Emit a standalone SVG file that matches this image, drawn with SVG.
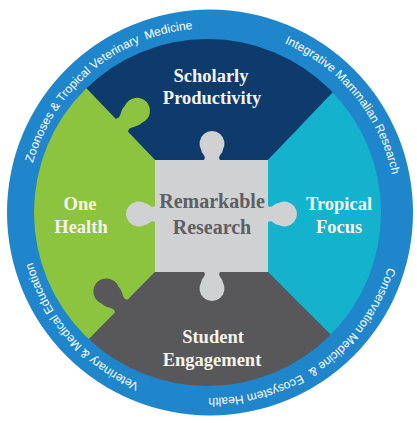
<svg xmlns="http://www.w3.org/2000/svg" xmlns:xlink="http://www.w3.org/1999/xlink" width="417" height="423" viewBox="0 0 417 423">
<style>
.lbl{font-family:"Liberation Serif","Times New Roman",serif;font-weight:bold;font-size:18.5px;fill:#f5f3ea;text-anchor:middle}
.ctr{font-family:"Liberation Serif","Times New Roman",serif;font-weight:bold;font-size:20px;fill:#5e5f63;text-anchor:middle}
.ring{font-family:"Liberation Sans",Arial,sans-serif;font-size:12px;fill:#ffffff}
</style>
<defs>
<clipPath id="inner"><circle cx="207.5" cy="212.5" r="173.5"/></clipPath>
<path id="knobL" d="M -9,3 L -9,0 C -5,-5 -12,-8 -12,-16 A 13 13 0 1 1 12,-16 C 12,-8 5,-5 9,0 L 9,3 Z"/>
<path id="knobS" d="M -8,3 L -8,0 C -5,-4 -10.7,-6 -10.7,-10 A 12.5 12.5 0 1 1 10.7,-10 C 10.7,-6 5,-4 8,0 L 8,3 Z"/>
<path id="ringPath" d="M 26,213 A 185 185 0 1 1 396,213 A 185 185 0 1 1 26,213"/>
</defs>
<g id="ring">
<circle cx="210" cy="212.5" r="203" fill="#1f86cc"/>
<g id="ring-text-1">
<text class="ring"><textPath xlink:href="#ringPath" startOffset="50.7">Zoonoses &amp; Tropical Veterinary</textPath></text>
<text class="ring"><textPath xlink:href="#ringPath" startOffset="224">Medicine</textPath></text>
</g>
<g id="ring-text-2">
<text class="ring"><textPath xlink:href="#ringPath" startOffset="366">Integrative Mammalian Research</textPath></text>
</g>
<g id="ring-text-3">
<text class="ring"><textPath xlink:href="#ringPath" startOffset="636">Conservation Medicine &amp;</textPath></text>
<text class="ring"><textPath xlink:href="#ringPath" startOffset="777.2">Ecosystem Health</textPath></text>
</g>
<g id="ring-text-4">
<text class="ring"><textPath xlink:href="#ringPath" startOffset="945">Veterinary &amp; Medical Education</textPath></text>
</g>
</g>
<g clip-path="url(#inner)">
<g id="scholarly">
<path d="M21,20 L155,160 L268,160 L406,16 L406,0 L21,0 Z" fill="#0e3b6c"/>
<use xlink:href="#knobL" transform="translate(296.4,130.4) rotate(133.8)" fill="#0e3b6c"/>
</g>
<g id="onehealth">
<path d="M21,20 L155,160 L155,272 L19,410 L0,410 L0,20 Z" fill="#8cc43f"/>
<use xlink:href="#knobL" transform="translate(121.8,125.3) rotate(46.3)" fill="#8cc43f"/>
</g>
<g id="tropical">
<path d="M406,16 L268,160 L268,272 L406,410 L420,410 L420,16 Z" fill="#14b2cd"/>
<use xlink:href="#knobL" transform="translate(297,301) rotate(-135)" fill="#14b2cd"/>
</g>
<g id="student">
<path d="M155,272 L268,272 L406,410 L406,423 L19,423 L19,410 Z" fill="#58585a"/>
<use xlink:href="#knobL" transform="translate(121.3,306.2) rotate(-45.4)" fill="#58585a"/>
</g>
<g id="remarkable">
<rect x="155" y="160" width="113" height="112" fill="#d0d1d3"/>
<use xlink:href="#knobS" transform="translate(212,160)" fill="#d0d1d3"/>
<use xlink:href="#knobS" transform="translate(212,272) rotate(180)" fill="#d0d1d3"/>
<use xlink:href="#knobS" transform="translate(155,214) rotate(-90)" fill="#d0d1d3"/>
<use xlink:href="#knobS" transform="translate(268,214) rotate(90)" fill="#d0d1d3"/>
</g>
</g>
<g id="labels">
<text class="lbl" x="211" y="82">Scholarly</text>
<text class="lbl" x="212" y="104">Productivity</text>
<text class="lbl" x="80" y="210">One</text>
<text class="lbl" x="81" y="233">Health</text>
<text class="lbl" x="339" y="210">Tropical</text>
<text class="lbl" x="339" y="233">Focus</text>
<text class="lbl" x="213" y="343">Student</text>
<text class="lbl" x="212" y="366">Engagement</text>
<text class="ctr" x="212" y="208">Remarkable</text>
<text class="ctr" x="212" y="234">Research</text>
</g>
</svg>
